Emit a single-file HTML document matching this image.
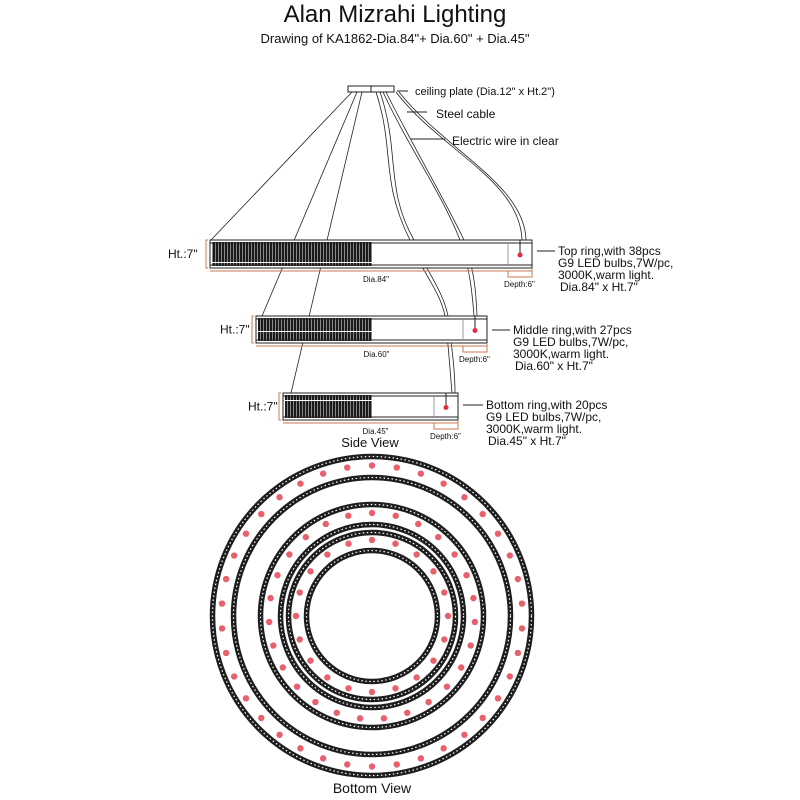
<!DOCTYPE html>
<html><head><meta charset="utf-8"><style>
html,body{margin:0;padding:0;background:#fff;width:800px;height:800px;overflow:hidden}
svg{display:block}
text{font-family:"Liberation Sans",sans-serif;fill:#111}
</style></head><body>
<svg id="s" width="800" height="800" viewBox="0 0 800 800" xmlns="http://www.w3.org/2000/svg">
<defs>
<pattern id="hatch" width="3" height="23" patternUnits="userSpaceOnUse">
<rect width="3" height="23" fill="#888"/><rect width="2" height="23" fill="#1a1a1a"/>
<rect y="9" width="3" height="1" fill="#fff"/>
</pattern>
</defs>
<text x="395" y="22" font-size="24" text-anchor="middle">Alan Mizrahi Lighting</text>
<text x="395" y="43" font-size="13" text-anchor="middle">Drawing of KA1862-Dia.84"+ Dia.60" + Dia.45"</text>

<rect x="348" y="86" width="46" height="6" fill="#fff" stroke="#222" stroke-width="1"/>
<line x1="371" y1="86" x2="371" y2="92" stroke="#222"/>
<line x1="397" y1="91" x2="408" y2="91" stroke="#222"/>
<text x="415" y="95" font-size="11">ceiling plate (Dia.12" x Ht.2")</text>
<line x1="407" y1="112" x2="427" y2="112" stroke="#222"/>
<text x="436" y="118" font-size="12">Steel cable</text>
<line x1="411" y1="139" x2="445" y2="139" stroke="#222"/>
<text x="452" y="145" font-size="12">Electric wire in clear</text>

<g stroke="#222" stroke-width="0.8" fill="none">
<line x1="352" y1="92" x2="211" y2="240"/>
<line x1="357" y1="92" x2="262" y2="316"/>
<line x1="362" y1="92" x2="291" y2="393"/>
<path d="M376 92 C 395 150, 380 180, 410 240 C 420 270, 440 290, 445 316 C 448 340, 450 370, 452 393"/>
<path d="M380 92 C 400 150, 385 190, 414 240 C 425 270, 443 290, 448 316 C 452 350, 455 370, 455 393"/>
<path d="M383 92 C 410 150, 440 190, 460 240 C 470 270, 472 290, 474 316"/>
<path d="M386 92 C 415 150, 445 200, 464 240 C 474 270, 476 290, 477 316"/>
<path d="M396 92 C 440 150, 520 180, 522 240"/>
<path d="M399 92 C 445 150, 525 185, 526 240"/>
</g>

<g id="rings"></g>

<text x="370" y="447" font-size="13" text-anchor="middle">Side View</text>
<text x="372" y="793" font-size="14" text-anchor="middle">Bottom View</text>

<g id="bottom"></g>
</svg>
<script>
const NS="http://www.w3.org/2000/svg";
function el(p,t,a,txt){const e=document.createElementNS(NS,t);for(const k in a)e.setAttribute(k,a[k]);if(txt)e.textContent=txt;p.appendChild(e);return e;}
const R=document.getElementById('rings');
const rings=[
 {x:210,y:240,w:322,h:28,ht:'Ht.:7"',htx:168,dia:'Dia.84"',lbl:['Top ring,with 38pcs','G9 LED bulbs,7W/pc,','3000K,warm light.','Dia.84" x Ht.7"'],lx:558,ly:255},
 {x:256,y:316,w:231,h:27,ht:'Ht.:7"',htx:220,dia:'Dia.60"',lbl:['Middle ring,with 27pcs','G9 LED bulbs,7W/pc,','3000K,warm light.','Dia.60" x Ht.7"'],lx:513,ly:334},
 {x:283,y:393,w:175,h:27,ht:'Ht.:7"',htx:248,dia:'Dia.45"',lbl:['Bottom ring,with 20pcs','G9 LED bulbs,7W/pc,','3000K,warm light.','Dia.45" x Ht.7"'],lx:486,ly:409}
];
rings.forEach(r=>{
 el(R,'rect',{x:r.x,y:r.y,width:r.w,height:r.h,fill:'#fff',stroke:'#222','stroke-width':1});
 el(R,'rect',{x:r.x+2,y:r.y+2,width:372-r.x-2,height:r.h-4,fill:'url(#hatch)'});
 el(R,'line',{x1:r.x,y1:r.y+3,x2:r.x+r.w,y2:r.y+3,stroke:'#222'});
 el(R,'line',{x1:r.x,y1:r.y+r.h-3,x2:r.x+r.w,y2:r.y+r.h-3,stroke:'#222'});
 el(R,'line',{x1:r.x+r.w-24,y1:r.y+3,x2:r.x+r.w-24,y2:r.y+r.h-3,stroke:'#999'});
 el(R,'line',{x1:r.x+r.w-12,y1:r.y,x2:r.x+r.w-12,y2:r.y+r.h/2,stroke:'#222'});
 el(R,'circle',{cx:r.x+r.w-12,cy:r.y+r.h/2+1,r:2.5,fill:'#e03040'});
 el(R,'path',{d:`M${r.x-2} ${r.y} L${r.x-4} ${r.y} L${r.x-4} ${r.y+r.h} L${r.x-2} ${r.y+r.h}`,stroke:'#c87850',fill:'none'});
 el(R,'text',{x:r.htx,y:r.y+r.h/2+4,'font-size':12},r.ht);
 el(R,'path',{d:`M${r.x} ${r.y+r.h+3} L${r.x+r.w} ${r.y+r.h+3}`,stroke:'#c87850'});
 el(R,'text',{x:(r.x+r.w/2)+5,y:r.y+r.h+14,'font-size':8,'text-anchor':'middle'},r.dia);
 el(R,'path',{d:`M${r.x+r.w-24} ${r.y+r.h+3} L${r.x+r.w-24} ${r.y+r.h+9} L${r.x+r.w} ${r.y+r.h+9} L${r.x+r.w} ${r.y+r.h}`,stroke:'#c87850',fill:'none'});
 el(R,'text',{x:r.x+r.w-28,y:r.y+r.h+19,'font-size':8},'Depth:6"');
 el(R,'line',{x1:r.x+r.w+5,y1:r.ly-4,x2:r.lx-3,y2:r.ly-4,stroke:'#222'});
 r.lbl.forEach((t,i)=>el(R,'text',{x:r.lx+(i==3?2:0),y:r.ly+i*12,'font-size':12},t));
});
const B=document.getElementById('bottom');
const cx=372,cy=616;
[[162,141,38],[114,94,27],[86,68,20]].forEach(([ro,ri,n])=>{
 [ro,ri].forEach(rr=>{
  el(B,'circle',{cx,cy,r:rr-2.5,fill:'none',stroke:'#1e1e1e','stroke-width':5.5});
  el(B,'circle',{cx,cy,r:rr-2.5,fill:'none',stroke:'#fff','stroke-width':1.2,'stroke-dasharray':'1.5 2.5'});
 });
 const rm=(ro+ri)/2-1;
 for(let i=0;i<n;i++){
  const a=-Math.PI/2+i*2*Math.PI/n;
  el(B,'circle',{cx:cx+rm*Math.cos(a),cy:cy+rm*Math.sin(a),r:3.2,fill:'#e8606e'});
 }
});
</script>
</body></html>
